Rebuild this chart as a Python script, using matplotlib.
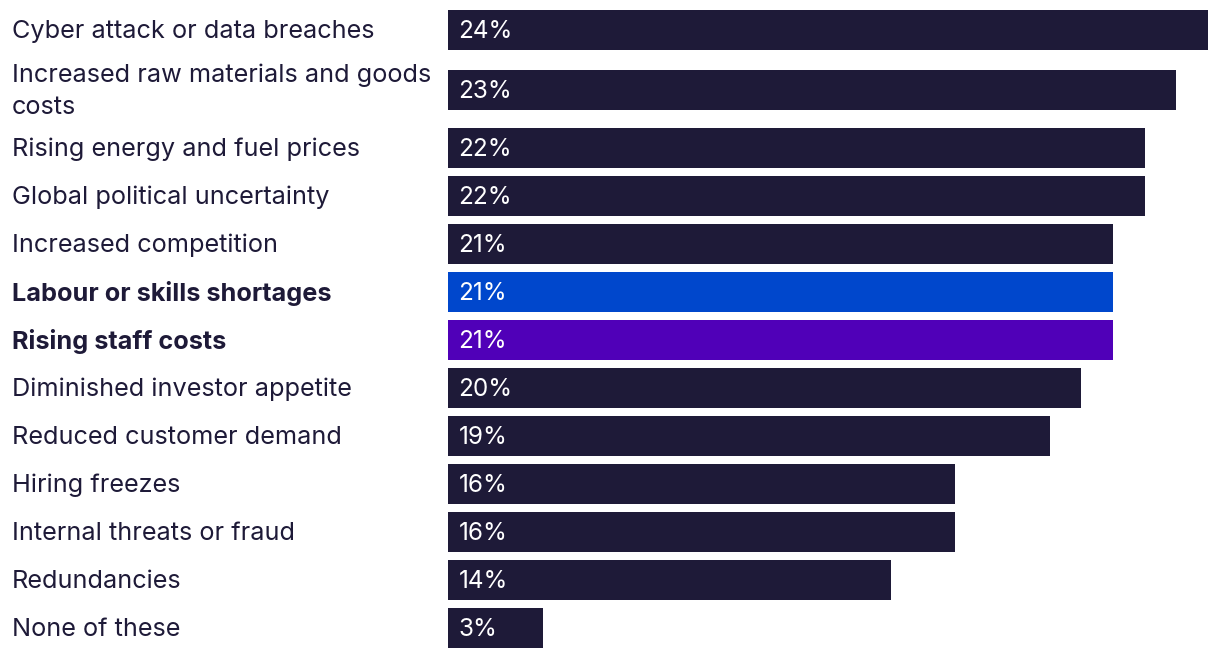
import matplotlib
matplotlib.use("Agg")
import matplotlib.pyplot as plt
from matplotlib.transforms import blended_transform_factory, offset_copy

categories = [
    "Cyber attack or data breaches",
    "Increased raw materials and goods\ncosts",
    "Rising energy and fuel prices",
    "Global political uncertainty",
    "Increased competition",
    "Labour or skills shortages",
    "Rising staff costs",
    "Diminished investor appetite",
    "Reduced customer demand",
    "Hiring freezes",
    "Internal threats or fraud",
    "Redundancies",
    "None of these",
]
values = [24, 23, 22, 22, 21, 21, 21, 20, 19, 16, 16, 14, 3]
highlight = {"Labour or skills shortages": "#0047CC", "Rising staff costs": "#5000B8"}

NAVY = "#1E1A38"
TEXT = "#1E1A38"

plt.rcParams['font.family'] = ['Inter', 'DejaVu Sans']

W, H, DPI = 1220, 660, 100
fig = plt.figure(figsize=(W / DPI, H / DPI), dpi=DPI)
ax = fig.add_axes([448 / W, 0, 760 / W, 1])
ax.set_xlim(0, max(values))
ax.set_ylim(H, 0)
ax.axis("off")

# layout: row pitch 48 px, extra space around multi-line labels
pitch, bar_h, first = 48, 40, 30
centers = []
y = first
for i, cat in enumerate(categories):
    nlines = cat.count("\n") + 1
    if i > 0:
        prev_lines = categories[i - 1].count("\n") + 1
        y += pitch + (12 if nlines > 1 else 0) + (10 if prev_lines > 1 else 0)
    centers.append(y)

colors = [highlight.get(c, NAVY) for c in categories]
ax.barh(centers, values, height=bar_h, color=colors, linewidth=0)

lab_tr = offset_copy(blended_transform_factory(fig.transFigure, ax.transData),
                     fig=fig, x=0, y=-1.5, units="dots")
for cat, v, yc in zip(categories, values, centers):
    bold = cat in highlight
    ax.text(12 / W, yc, cat, transform=lab_tr, ha="left", va="center",
            fontsize=18.2, color=TEXT, fontweight="bold" if bold else "normal",
            linespacing=1.48)
    ax.annotate(f"{v}%", xy=(0, yc), xytext=(7.5, -1), textcoords="offset points",
                ha="left", va="center", fontsize=17.5, color="white")

fig.savefig("out.png", dpi=DPI)
